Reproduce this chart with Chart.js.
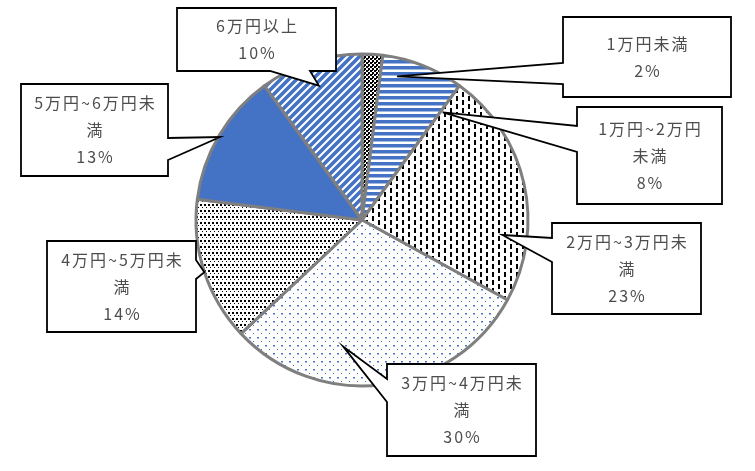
<!DOCTYPE html>
<html>
<head>
<meta charset="utf-8">
<script src="https://cdn.jsdelivr.net/npm/chart.js@4"></script>
<style>
  html, body { margin: 0; padding: 0; background: #fff; }
  canvas { display: block; }
</style>
</head>
<body>
<canvas id="pieChart" width="755" height="471"></canvas>
<script>
// price bands and their share (%)
const CATEGORIES = ['1万円未満', '1万円~2万円未満', '2万円~3万円未満', '3万円~4万円未満', '4万円~5万円未満', '5万円~6万円未満', '6万円以上'];
const SHARES = [2, 8, 23, 30, 14, 13, 10];
// label text as wrapped in the callouts
const LABEL_LINES = [
  ['1万円未満'],
  ['1万円~2万円', '未満'],
  ['2万円~3万円未', '満'],
  ['3万円~4万円未', '満'],
  ['4万円~5万円未', '満'],
  ['5万円~6万円未', '満'],
  ['6万円以上'],
];

const BLUE = '#4472c4';

function makePattern(w, h, draw) {
  const c = document.createElement('canvas');
  c.width = w; c.height = h;
  const g = c.getContext('2d');
  g.fillStyle = '#fff';
  g.fillRect(0, 0, w, h);
  draw(g);
  return g.createPattern(c, 'repeat');
}

const FILLS = [
  makePattern(4, 4, g => { g.fillStyle = '#000'; g.fillRect(0, 0, 2, 2); g.fillRect(2, 2, 2, 2); g.fillRect(0, 2, 1, 1); }),
  makePattern(6, 6, g => { g.fillStyle = BLUE; g.fillRect(0, 0, 6, 3.5); }),
  makePattern(12, 8, g => { g.fillStyle = '#000'; g.fillRect(0, 0, 2, 5); g.fillRect(6, 4, 2, 4); g.fillRect(6, 0, 2, 1); }),
  makePattern(8, 8, g => { g.fillStyle = BLUE; g.fillRect(1, 1, 2, 1.5); g.fillRect(5, 5, 1, 1); }),
  makePattern(4, 6, g => { g.fillStyle = '#000'; g.fillRect(0, 0, 2, 2); g.fillRect(2, 3, 1, 1); }),
  BLUE,
  makePattern(8, 8, g => {
    g.strokeStyle = BLUE; g.lineWidth = 3.6;
    g.beginPath();
    g.moveTo(-4, 4); g.lineTo(4, -4);
    g.moveTo(-4, 12); g.lineTo(12, -4);
    g.moveTo(4, 12); g.lineTo(12, 4);
    g.stroke();
  }),
];

// callout boxes: [x, y, w, h], edge carrying the pointer, pointer base offsets, tip (angle deg from top, fraction of radius)
const CALLOUTS = [
  { box: [563, 17, 168, 80], edge: 'left', base: [46, 67], tip: [13.7, 0.89] },
  { box: [577, 107, 145, 97], edge: 'left', base: [19, 45], tip: [36.9, 0.81] },
  { box: [552, 223, 149, 91], edge: 'left', base: [15, 39], tip: [96.1, 0.85] },
  { box: [387, 364, 149, 92], edge: 'left', base: [15, 38], tip: [188.5, 0.77] },
  { box: [47, 241, 149, 91], edge: 'right', base: [19, 38], tip: [251.7, 1.0] },
  { box: [21, 84, 147, 92], edge: 'right', base: [54, 76], tip: [300.3, 0.99] },
  { box: [177, 8, 159, 63], edge: 'bottom', base: [93, 133], tip: [342.2, 0.85] },
];

const calloutPlugin = {
  id: 'callouts',
  afterDraw(chart) {
    const ctx = chart.ctx;
    const arc = chart.getDatasetMeta(0).data[0];
    const cx = arc.x, cy = arc.y, R = arc.outerRadius;
    CALLOUTS.forEach((c, i) => {
      const [x, y, w, h] = c.box;
      const a = c.tip[0] * Math.PI / 180;
      const tx = cx + c.tip[1] * R * Math.sin(a);
      const ty = cy - c.tip[1] * R * Math.cos(a);
      const [o1, o2] = c.base;
      ctx.save();
      ctx.beginPath();
      if (c.edge === 'left') {
        ctx.moveTo(x, y); ctx.lineTo(x + w, y); ctx.lineTo(x + w, y + h); ctx.lineTo(x, y + h);
        ctx.lineTo(x, y + o2); ctx.lineTo(tx, ty); ctx.lineTo(x, y + o1);
      } else if (c.edge === 'right') {
        ctx.moveTo(x, y); ctx.lineTo(x + w, y); ctx.lineTo(x + w, y + o1); ctx.lineTo(tx, ty);
        ctx.lineTo(x + w, y + o2); ctx.lineTo(x + w, y + h); ctx.lineTo(x, y + h);
      } else {
        ctx.moveTo(x, y); ctx.lineTo(x + w, y); ctx.lineTo(x + w, y + h); ctx.lineTo(x + o2, y + h);
        ctx.lineTo(tx, ty); ctx.lineTo(x + o1, y + h); ctx.lineTo(x, y + h);
      }
      ctx.closePath();
      ctx.fillStyle = '#fff';
      ctx.fill();
      ctx.lineWidth = 1.8;
      ctx.lineJoin = 'miter';
      ctx.strokeStyle = '#000';
      ctx.stroke();

      const lines = LABEL_LINES[i].concat([SHARES[i] + '%']);
      const lh = 27;
      ctx.font = '16px "Noto Sans CJK JP"';
      ctx.fillStyle = '#4d4d4d';
      ctx.textAlign = 'center';
      ctx.textBaseline = 'middle';
      ctx.letterSpacing = '2px';
      const top = y + h / 2 - (lines.length - 1) * lh / 2;
      lines.forEach((t, k) => ctx.fillText(t, x + w / 2 + 1, top + k * lh));
      ctx.restore();
    });
  },
};

new Chart(document.getElementById('pieChart'), {
  type: 'pie',
  data: {
    labels: CATEGORIES,
    datasets: [{
      data: SHARES,
      backgroundColor: FILLS,
      borderColor: '#7f7f7f',
      borderWidth: 3,
    }],
  },
  options: {
    responsive: false,
    animation: false,
    radius: 166,
    layout: { padding: { left: 0, right: 31, top: 0, bottom: 31 } },
    plugins: {
      legend: { display: false },
      tooltip: { enabled: false },
    },
  },
  plugins: [calloutPlugin],
});
</script>
</body>
</html>
